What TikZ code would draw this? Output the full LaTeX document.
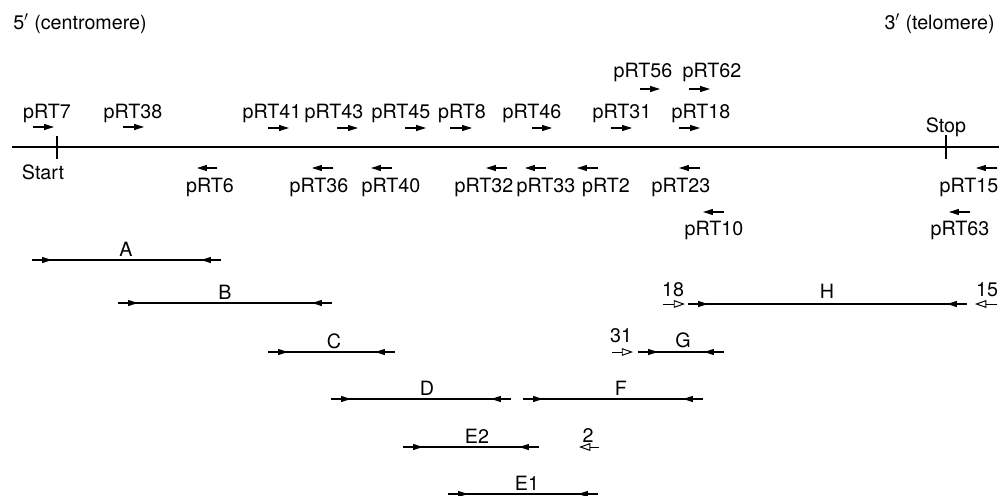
\documentclass[tikz,border=0pt]{standalone}
\usepackage{fontspec}
\setmainfont{TeX Gyre Heros}
\usetikzlibrary{arrows.meta,decorations.markings}
\tikzstyle{primer} = [line width=0.8pt,-{Triangle[length=7pt,width=4.2pt]}]
\tikzstyle{probe} = [line width=0.7pt,-{Triangle[open,length=8pt,width=5.5pt]}]
\tikzstyle{frag} = [line width=0.8pt,postaction={decorate},
  decoration={markings,
    mark=at position 14.2pt with {\arrow{Triangle[length=7pt,width=4.2pt]}},
    mark=at position -14.2pt with {\arrowreversed{Triangle[length=7pt,width=4.2pt]}}}]
\tikzstyle{lbl} = [inner sep=0pt,anchor=base,font=\fontsize{14}{16}\selectfont]

\begin{document}
\begin{tikzpicture}[x=0.025cm,y=-0.025cm]
\useasboundingbox (0,0) rectangle (999,495);

% Ends of the map
\node[lbl,anchor=base west] (cen) at (13,29) {5$'$ (centromere)};
\node[lbl,anchor=base east] (tel) at (995,29) {3$'$ (telomere)};

% Gene line
\draw[line width=1pt] (12,147) -- (999,147);
\draw[line width=0.8pt] (57,136) -- (57,159);
\draw[line width=0.8pt] (946,135) -- (946,159);
\node[lbl] (start) at (43,179) {Start};
\node[lbl] (stop) at (946,132) {Stop};

% Forward primers
\node[lbl] (pRT7) at (47,118) {pRT7};
\draw[primer] (33,127) -- (54,127);
\node[lbl] (pRT38) at (133,118) {pRT38};
\draw[primer] (123,127) -- (144,127);
\node[lbl] (pRT41) at (272,118) {pRT41};
\draw[primer] (268,128) -- (289,128);
\node[lbl] (pRT43) at (334,118) {pRT43};
\draw[primer] (337,128) -- (358,128);
\node[lbl] (pRT45) at (401,118) {pRT45};
\draw[primer] (405,128) -- (426,128);
\node[lbl] (pRT8) at (462,118) {pRT8};
\draw[primer] (450,128) -- (472,128);
\node[lbl] (pRT46) at (532,118) {pRT46};
\draw[primer] (532,128) -- (552,128);
\node[lbl] (pRT31) at (622,118) {pRT31};
\draw[primer] (611,128) -- (632,128);
\node[lbl] (pRT18) at (701,118) {pRT18};
\draw[primer] (679,128) -- (700,128);
\node[lbl] (pRT56) at (643,77) {pRT56};
\draw[primer] (640,89) -- (660,89);
\node[lbl] (pRT62) at (712,77) {pRT62};
\draw[primer] (689,89) -- (710,89);

% Reverse primers
\draw[primer] (217,168) -- (197,168);
\node[lbl] (pRT6) at (210,192) {pRT6};
\draw[primer] (333,168) -- (312,168);
\node[lbl] (pRT36) at (319,192) {pRT36};
\draw[primer] (392,168) -- (371,168);
\node[lbl] (pRT40) at (391,192) {pRT40};
\draw[primer] (507,168) -- (486,168);
\node[lbl] (pRT32) at (484,192) {pRT32};
\draw[primer] (546,168) -- (525,168);
\node[lbl] (pRT33) at (546,192) {pRT33};
\draw[primer] (598,168) -- (577,168);
\node[lbl] (pRT2) at (606,192) {pRT2};
\draw[primer] (700,168) -- (679,168);
\node[lbl] (pRT23) at (681,192) {pRT23};
\draw[primer] (997,168) -- (976,168);
\node[lbl] (pRT15) at (969,192) {pRT15};
\draw[primer] (724,212) -- (703,212);
\node[lbl] (pRT10) at (714,235) {pRT10};
\draw[primer] (970,212) -- (949,212);
\node[lbl] (pRT63) at (960,235) {pRT63};

% PCR fragments
\draw[frag] (32,260) -- (221,260);
\node[lbl] (fragA) at (126,256) {A};
\draw[frag] (118,303) -- (332,303);
\node[lbl] (fragB) at (225,299) {B};
\draw[frag] (268,352) -- (395,352);
\node[lbl] (fragC) at (334,348) {C};
\draw[frag] (331,399) -- (511,399);
\node[lbl] (fragD) at (427,395) {D};
\draw[frag] (403,447) -- (539,447);
\node[lbl] (fragE2) at (477,443) {E2};
\draw[frag] (448,494) -- (598,494);
\node[lbl] (fragE1) at (527,490) {E1};
\draw[frag] (523,399) -- (703,399);
\node[lbl] (fragF) at (621,395) {F};
\draw[frag] (638,352) -- (724,352);
\node[lbl] (fragG) at (683,347) {G};
\draw[frag] (688,304) -- (967,304);
\node[lbl] (fragH) at (827,298) {H};

% Single primers
\draw[probe] (663,304) -- (685,304);
\node[lbl] (p18) at (673,296) {18};
\draw[probe] (997,304) -- (975,304);
\node[lbl] (p15) at (987,296) {15};
\draw[probe] (612,352) -- (633,352);
\node[lbl] (p31) at (621,342) {31};
\draw[probe] (599,447) -- (579,447);
\node[lbl] (p2) at (588,442) {2};
\end{tikzpicture}
\end{document}
